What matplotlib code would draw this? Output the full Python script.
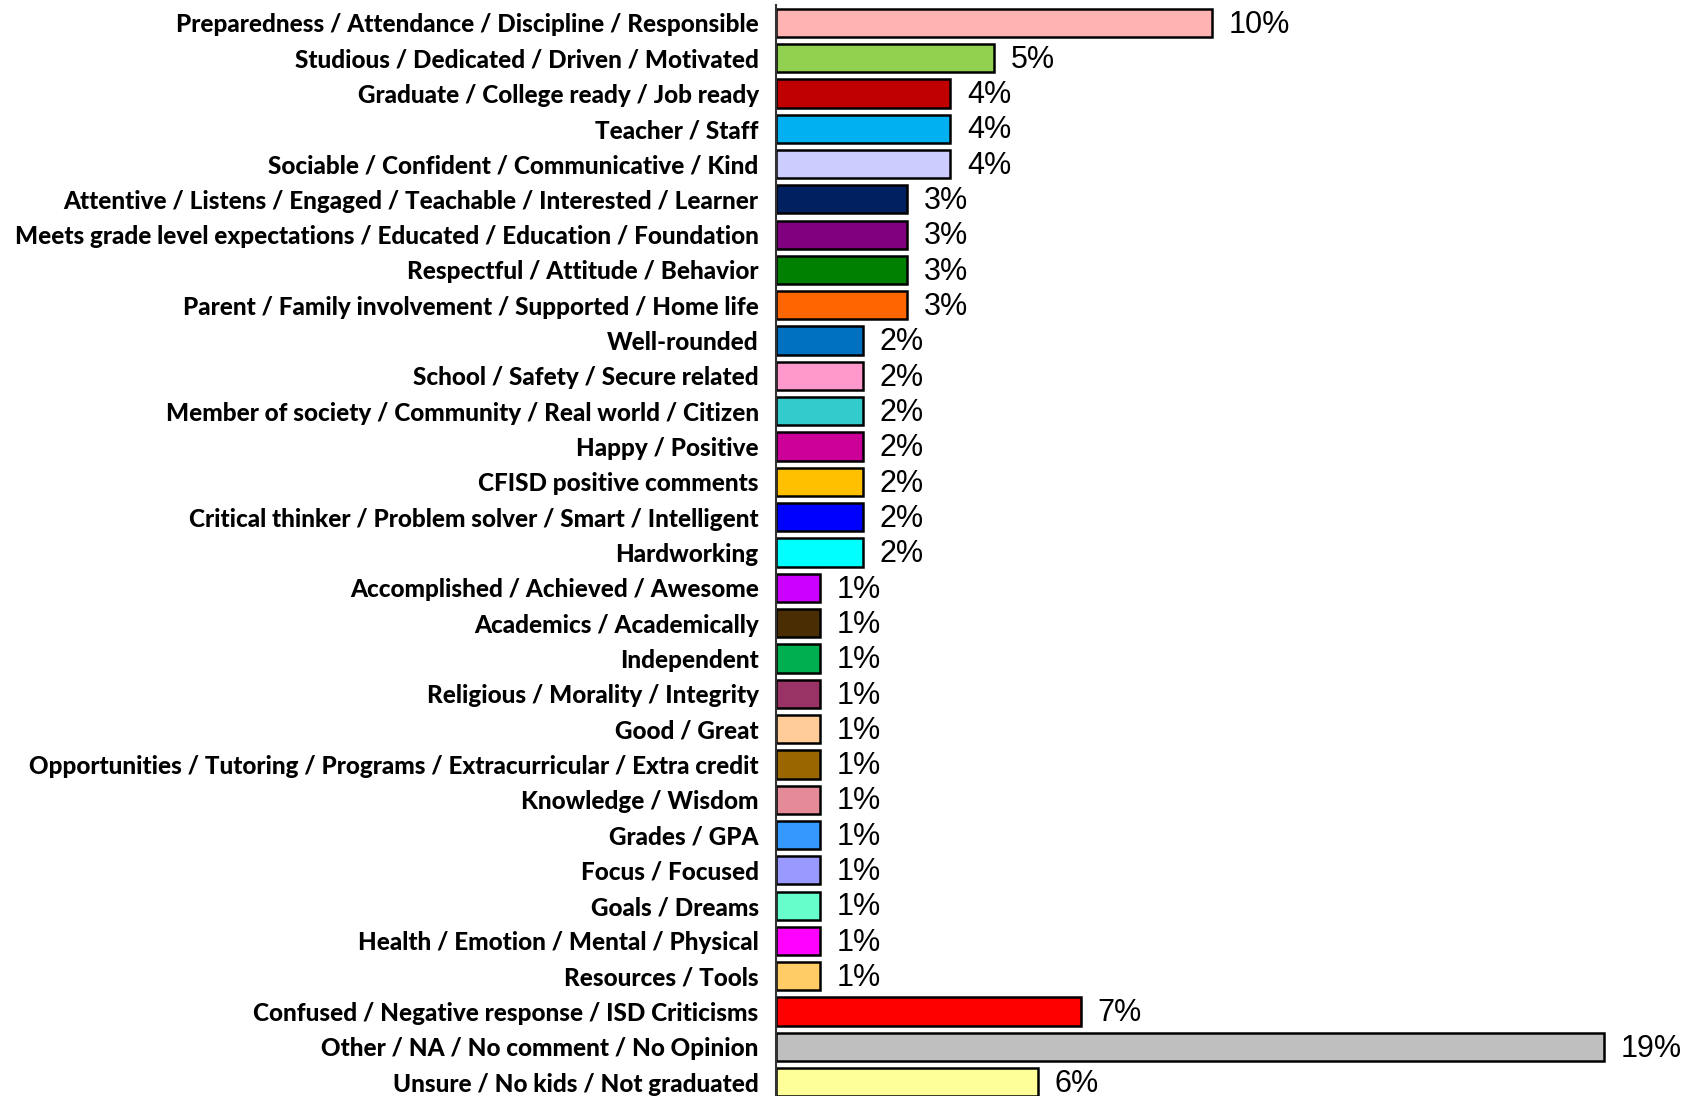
import numpy as np
import matplotlib.pyplot as plt

categories = [
    "Preparedness / Attendance / Discipline / Responsible",
    "Studious / Dedicated / Driven / Motivated",
    "Graduate / College ready / Job ready",
    "Teacher / Staff",
    "Sociable / Confident / Communicative / Kind",
    "Attentive / Listens / Engaged / Teachable / Interested / Learner",
    "Meets grade level expectations / Educated / Education / Foundation",
    "Respectful / Attitude / Behavior",
    "Parent / Family involvement / Supported / Home life",
    "Well-rounded",
    "School / Safety / Secure related",
    "Member of society / Community / Real world / Citizen",
    "Happy / Positive",
    "CFISD positive comments",
    "Critical thinker / Problem solver / Smart / Intelligent",
    "Hardworking",
    "Accomplished / Achieved / Awesome",
    "Academics / Academically",
    "Independent",
    "Religious / Morality / Integrity",
    "Good / Great",
    "Opportunities / Tutoring / Programs / Extracurricular / Extra credit",
    "Knowledge / Wisdom",
    "Grades / GPA",
    "Focus / Focused",
    "Goals / Dreams",
    "Health / Emotion / Mental / Physical",
    "Resources / Tools",
    "Confused / Negative response / ISD Criticisms",
    "Other / NA / No comment / No Opinion",
    "Unsure / No kids / Not graduated",
]
values = [10, 5, 4, 4, 4, 3, 3, 3, 3, 2, 2, 2, 2, 2, 2, 2,
          1, 1, 1, 1, 1, 1, 1, 1, 1, 1, 1, 1, 7, 19, 6]
colors = ["#FFB3B3", "#92D050", "#C00000", "#00B0F0", "#CCCCFF", "#002060",
          "#800080", "#008000", "#FF6600", "#0070C0", "#FF99CC", "#33CCCC",
          "#CC0099", "#FFC000", "#0000FF", "#00FFFF", "#CC00FF", "#4B2D03",
          "#00B050", "#993366", "#FFCC99", "#996600", "#E48A98", "#3399FF",
          "#9999FF", "#66FFCC", "#FF00FF", "#FFCC66", "#FF0000", "#BFBFBF",
          "#FFFF99"]

fig = plt.figure(figsize=(16.87, 10.96), dpi=100)
ax = fig.add_axes([0.46, 0.0, 0.54, 0.995])

y = np.arange(len(categories))
ax.barh(y, values, height=0.8, color=colors, edgecolor="black", linewidth=1.8)

# percent labels to the right of each bar
for yi, v in zip(y, values):
    ax.text(v + 0.38, yi + 0.05, f"{v}%", va="center", ha="left",
            fontsize=22, family="Liberation Sans", color="black")

ax.set_yticks(y)
ax.set_yticklabels(categories, fontsize=17.5, family="Lato", fontweight="black")
ax.tick_params(axis="y", length=0, pad=12.5)
ax.set_ylim(30.39, -0.49)
ax.set_xlim(0, 20.9)
ax.set_xticks([])
for s in ["top", "right", "bottom"]:
    ax.spines[s].set_visible(False)
ax.spines["left"].set_linewidth(1.5)
ax.spines["left"].set_color("#333333")

plt.savefig("out.png", dpi=100)
